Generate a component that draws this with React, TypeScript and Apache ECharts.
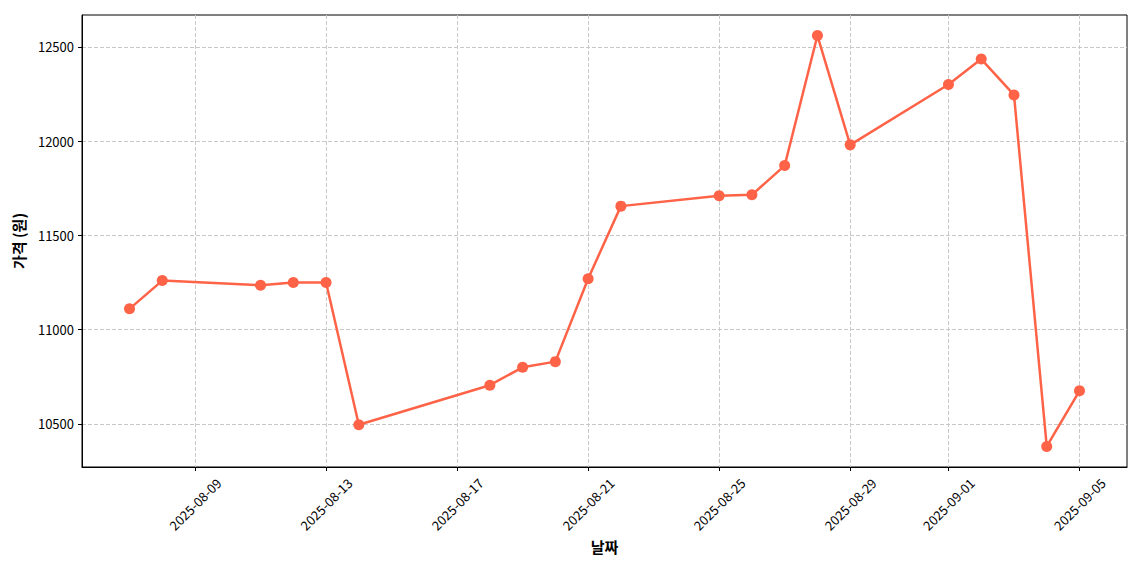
import React, { useEffect, useRef } from "react";
import * as echarts from "echarts";

const dates: string[] = [
  "2025-08-07", "2025-08-08", "2025-08-11", "2025-08-12", "2025-08-13", "2025-08-14",
  "2025-08-18", "2025-08-19", "2025-08-20", "2025-08-21", "2025-08-22",
  "2025-08-25", "2025-08-26", "2025-08-27", "2025-08-28", "2025-08-29",
  "2025-09-01", "2025-09-02", "2025-09-03", "2025-09-04", "2025-09-05",
];
const prices: number[] = [
  11110, 11260, 11235, 11250, 11250, 10495,
  10705, 10800, 10830, 11270, 11655,
  11710, 11715, 11870, 12560, 11980,
  12300, 12435, 12245, 10380, 10675,
];
const xTickDates: string[] = [
  "2025-08-09", "2025-08-13", "2025-08-17", "2025-08-21",
  "2025-08-25", "2025-08-29", "2025-09-01", "2025-09-05",
];
const yTicks: number[] = [10500, 11000, 11500, 12000, 12500];

const DAY = 86400000;
const BASE = Date.UTC(2025, 7, 1);
const toDay = (d: string) => {
  const [y, m, dd] = d.split("-").map(Number);
  return Math.round((Date.UTC(y, m - 1, dd) - BASE) / DAY);
};
const fmt = (v: number) => {
  const d = new Date(BASE + Math.round(v) * DAY);
  const p = (n: number) => String(n).padStart(2, "0");
  return `${d.getUTCFullYear()}-${p(d.getUTCMonth() + 1)}-${p(d.getUTCDate())}`;
};

export default function App() {
  const ref = useRef<HTMLDivElement>(null);
  useEffect(() => {
    if (!ref.current) return;
    const chart = echarts.init(ref.current, null, { renderer: "svg" });
    const xs = dates.map(toDay);
    const xMin = xs[0] - 1.45;
    const xMax = xs[xs.length - 1] + 1.45;
    const xTicks = xTickDates.map(toDay);
    const font = "'Noto Sans CJK KR', 'Noto Sans', sans-serif";
    chart.setOption({
      animation: false,
      backgroundColor: "#ffffff",
      grid: {
        left: 82,
        right: 13,
        top: 15,
        bottom: 103,
        show: true,
        borderColor: "#000",
        borderWidth: 1,
        containLabel: false,
        outerBoundsMode: "none",
      },
      xAxis: {
        type: "value",
        min: xMin,
        max: xMax,
        name: "날짜",
        nameLocation: "middle",
        nameGap: 70,
        nameTextStyle: { fontFamily: font, fontSize: 15, fontWeight: "bold", color: "#000" },
        axisLine: { show: true, lineStyle: { color: "#000", width: 1 } },
        axisTick: {
          show: true,
          length: 4,
          lineStyle: { color: "#000" },
          customValues: xTicks,
        },
        axisLabel: {
          customValues: xTicks,
          formatter: (v: number) => fmt(v),
          rotate: 45,
          align: "center",
          verticalAlign: "middle",
          margin: 37,
          fontFamily: font,
          fontSize: 13,
          color: "#000",
          hideOverlap: false,
        },
        splitLine: {
          show: true,
          lineStyle: { color: "#c8c8c8", type: [4, 2], width: 1 },
        },
      },
      yAxis: {
        type: "value",
        min: 10271,
        max: 12669,
        name: "가격 (원)",
        nameLocation: "middle",
        nameGap: 56,
        nameTextStyle: { fontFamily: font, fontSize: 15, fontWeight: "bold", color: "#000" },
        axisLine: { show: true, lineStyle: { color: "#000", width: 1 } },
        axisTick: {
          show: true,
          length: 4,
          lineStyle: { color: "#000" },
          customValues: yTicks,
        },
        axisLabel: {
          customValues: yTicks,
          formatter: (v: number) => String(v),
          margin: 8,
          fontFamily: font,
          fontSize: 13,
          color: "#000",
        },
        splitLine: {
          show: true,
          lineStyle: { color: "#c8c8c8", type: [4, 2], width: 1 },
        },
      },
      series: [
        {
          type: "line",
          data: xs.map((x, i) => [x, prices[i]]),
          symbol: "circle",
          symbolSize: 11,
          showAllSymbol: true,
          lineStyle: { color: "#FF6347", width: 2.5 },
          itemStyle: { color: "#FF6347" },
        },
      ],
    });
    return () => chart.dispose();
  }, []);
  return (
    <div
      ref={ref}
      style={{ position: "fixed", left: 0, top: 0, width: 1140, height: 570 }}
    />
  );
}
